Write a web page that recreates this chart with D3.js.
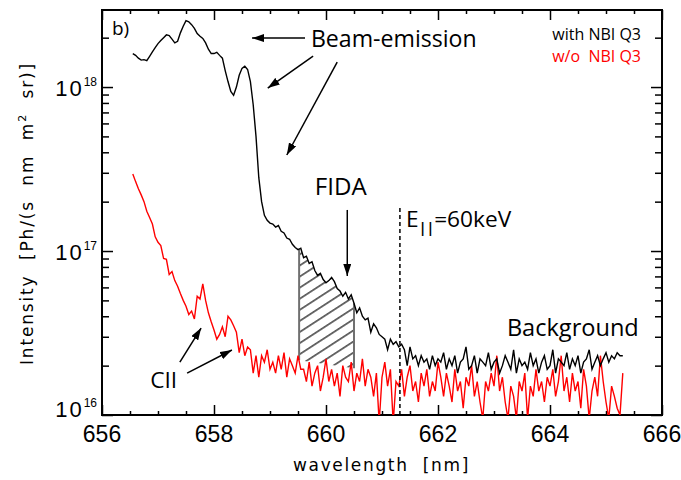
<!DOCTYPE html>
<html><head><meta charset="utf-8">
<script src="https://cdn.jsdelivr.net/npm/d3@7/dist/d3.min.js"></script>
<style>html,body{margin:0;padding:0;background:#fff}svg{display:block}</style>
</head><body>
<svg id="chart" width="681" height="480"></svg>
<script>
// ---------------- data (intensity in units of 1e16 Ph/(s nm m^2 sr)) ----------------
const intensityUnit = 1e16;
const wavelength = [
656.55,656.60,656.65,656.70,656.75,656.80,656.85,656.90,656.95,657.00,
657.05,657.10,657.15,657.20,657.25,657.30,657.35,657.40,657.45,657.50,
657.55,657.60,657.65,657.70,657.75,657.80,657.85,657.90,657.95,658.00,
658.05,658.10,658.15,658.20,658.25,658.30,658.35,658.40,658.45,658.50,
658.55,658.60,658.65,658.70,658.75,658.80,658.85,658.90,658.95,659.00,
659.05,659.10,659.15,659.20,659.25,659.30,659.35,659.40,659.45,659.50,
659.55,659.60,659.65,659.70,659.75,659.80,659.85,659.90,659.95,660.00,
660.05,660.10,660.15,660.20,660.25,660.30,660.35,660.40,660.45,660.50,
660.55,660.60,660.65,660.70,660.75,660.80,660.85,660.90,660.95,661.00,
661.05,661.10,661.15,661.20,661.25,661.30,661.35,661.40,661.45,661.50,
661.55,661.60,661.65,661.70,661.75,661.80,661.85,661.90,661.95,662.00,
662.05,662.10,662.15,662.20,662.25,662.30,662.35,662.40,662.45,662.50,
662.55,662.60,662.65,662.70,662.75,662.80,662.85,662.90,662.95,663.00,
663.05,663.10,663.15,663.20,663.25,663.30,663.35,663.40,663.45,663.50,
663.55,663.60,663.65,663.70,663.75,663.80,663.85,663.90,663.95,664.00,
664.05,664.10,664.15,664.20,664.25,664.30,664.35,664.40,664.45,664.50,
664.55,664.60,664.65,664.70,664.75,664.80,664.85,664.90,664.95,665.00,
665.05,665.10,665.15,665.20,665.25,665.30];
const withNBI = [
160,156,150,146,147,145,154,164,174,184,
192,200,208,206,196,186,190,214,235,254,
250,240,228,212,204,198,186,170,160,160,
163,156,150,126,108,94,89,100,118,130,
134,128,108,78,50,28,20,16.5,15.4,14.8,
14.6,14.0,14.3,13.2,12.9,12.0,11.8,11.0,10.5,10.2,
10.4,9.1,9.3,8.4,8.6,7.6,7.1,7.3,6.7,6.4,
6.6,6.9,6.5,5.9,5.7,5.3,5.6,5.1,5.4,4.8,
4.2,4.5,4.0,3.8,3.9,3.2,3.6,3.4,3.1,3.0,
2.9,2.5,2.9,2.7,2.8,2.6,2.7,2.5,2.0,2.6,
2.2,2.3,2.0,2.3,2.1,2.2,1.9,2.3,2.0,2.2,
2.1,2.4,1.9,2.2,2.0,2.3,1.8,2.1,2.2,2.6,
1.9,2.0,2.3,1.8,2.2,2.1,2.0,2.4,1.9,2.1,
2.2,1.8,2.0,2.3,2.1,1.9,2.5,1.8,2.2,2.0,
2.1,1.9,2.4,2.0,2.2,1.8,2.1,2.3,1.9,2.0,
2.5,1.8,2.2,2.1,2.0,2.4,1.9,2.2,2.0,2.3,
1.8,2.1,2.2,2.5,1.9,2.1,2.3,2.0,2.2,2.4,
2.1,2.3,2.2,2.4,2.3,2.3];
const withoutNBI = [
29.5,26.5,24.0,22.0,20.0,17.5,16.0,14.6,12.2,11.3,
10.8,9.0,8.9,7.2,7.5,6.6,6.1,5.5,5.0,4.6,
4.1,4.3,3.85,5.3,5.1,6.3,5.0,4.2,3.7,3.3,
2.9,3.1,3.45,3.0,4.0,3.8,3.5,3.2,2.4,2.9,
2.3,2.6,2.5,1.8,2.3,1.7,2.3,2.1,2.5,1.9,
2.1,1.8,2.3,1.9,2.4,1.7,2.2,2.0,1.8,2.3,
1.9,1.9,1.6,2.1,1.5,1.8,2.0,1.4,1.7,2.2,
1.6,1.9,1.5,1.8,1.3,2.0,1.7,1.6,2.1,1.4,
1.8,1.6,2.2,1.5,1.9,1.7,1.3,1.8,0.9,1.7,
2.1,1.5,1.9,0.9,1.6,1.5,1.9,1.3,1.7,2.0,
1.4,1.6,1.2,1.8,1.5,1.9,1.3,1.6,1.4,2.1,
1.7,1.3,1.8,1.5,1.2,1.9,1.4,1.6,1.1,1.7,
1.5,2.0,1.3,1.6,1.2,0.95,1.6,1.4,1.8,1.5,
2.3,1.4,1.7,1.2,0.95,1.5,1.3,0.95,1.6,1.4,
1.8,0.95,1.5,1.3,1.9,1.4,1.6,1.2,1.7,1.5,
1.9,1.3,1.6,2.3,1.4,1.7,1.2,1.8,1.4,1.6,
1.1,1.9,1.5,0.95,1.4,1.7,1.3,2.3,1.6,1.2,
0.95,1.5,1.3,1.1,1.0,1.8];
const seriesLabels = ["with NBI Q3", "w/o  NBI Q3"];
const xTickValues = [656, 658, 660, 662, 664, 666];
const xTickLabels = ["656", "658", "660", "662", "664", "666"];
const yTickValues = [1e16, 1e17, 1e18];
const yTickExponents = ["16", "17", "18"];
const fidaRange = [659.52, 660.50];
const fidaBase = [2.16, 1.93];
const eParallelWavelength = 661.32;

// ---------------- annotations (data coordinates) ----------------
const arrows = [
  {from:[659.625,199], to:[658.68,199]},
  {from:[659.77,154.5], to:[658.96,98.6]},
  {from:[660.20,142], to:[659.30,38.5]},
  {from:[660.38,17.8], to:[660.38,7.04]},
  {from:[657.39,2.10], to:[657.77,3.39]},
  {from:[657.52,1.80], to:[658.32,2.49]}
];
const labels = [
  {text:"Beam-emission", wl:659.73, val:175, width:166},
  {text:"FIDA", wl:659.80, val:21.9, width:52},
  {text:"Background", wl:663.23, val:3.03, width:132},
  {text:"CII", wl:656.86, val:1.46, width:27}
];

// ---------------- layout ----------------
const plot = {left:102, right:662, top:10, bottom:415};
const svg = d3.select("#chart");
const x = d3.scaleLinear().domain([656, 666]).range([plot.left, plot.right]);
const y = d3.scaleLog().domain([1e16, 2.95e18]).range([plot.bottom, plot.top]);
const yv = v => y(v * intensityUnit);
const annFont = "'Open Sans', 'Noto Sans', sans-serif";

const defs = svg.append("defs");
defs.append("clipPath").attr("id","clip").append("rect")
  .attr("x", plot.left).attr("y", plot.top)
  .attr("width", plot.right - plot.left).attr("height", plot.bottom - plot.top);
defs.append("marker").attr("id","arrow").attr("markerUnits","userSpaceOnUse")
  .attr("markerWidth",13).attr("markerHeight",8).attr("refX",12).attr("refY",4)
  .attr("orient","auto")
  .append("path").attr("d","M0,0 L12,4 L0,8 Z").attr("fill","#000");
const pat = defs.append("pattern").attr("id","hatch").attr("patternUnits","userSpaceOnUse")
  .attr("width",14).attr("height",9.3).attr("patternTransform","rotate(-33)");
pat.append("line").attr("x1",0).attr("x2",14).attr("y1",4.6).attr("y2",4.6)
  .attr("stroke","#4a4a4a").attr("stroke-width",1.6);

// ---------------- axes ----------------
const tickStyle = g => { g.select(".domain").remove(); g.selectAll("line").attr("stroke","#000").attr("stroke-width",1.5); g.selectAll("text").remove(); };
const yMinor = y.ticks().filter(v => !yTickValues.includes(v));
const xMinor = d3.range(656, 666.001, 0.5).filter(v => !xTickValues.includes(v));

svg.append("g").attr("transform",`translate(${plot.left},0)`).call(d3.axisRight(y).tickValues(yTickValues).tickSize(11)).call(tickStyle);
svg.append("g").attr("transform",`translate(${plot.left},0)`).call(d3.axisRight(y).tickValues(yMinor).tickSize(7)).call(tickStyle);
svg.append("g").attr("transform",`translate(${plot.right},0)`).call(d3.axisLeft(y).tickValues(yTickValues).tickSize(11)).call(tickStyle);
svg.append("g").attr("transform",`translate(${plot.right},0)`).call(d3.axisLeft(y).tickValues(yMinor).tickSize(7)).call(tickStyle);
svg.append("g").attr("transform",`translate(0,${plot.bottom})`).call(d3.axisTop(x).tickValues(xTickValues).tickSize(10)).call(tickStyle);
svg.append("g").attr("transform",`translate(0,${plot.bottom})`).call(d3.axisTop(x).tickValues(xMinor).tickSize(4)).call(tickStyle);
svg.append("g").attr("transform",`translate(0,${plot.top})`).call(d3.axisBottom(x).tickValues(xTickValues).tickSize(10)).call(tickStyle);
svg.append("g").attr("transform",`translate(0,${plot.top})`).call(d3.axisBottom(x).tickValues(xMinor).tickSize(4)).call(tickStyle);

svg.append("rect").attr("x",plot.left).attr("y",plot.top)
  .attr("width",plot.right-plot.left).attr("height",plot.bottom-plot.top)
  .attr("fill","none").attr("stroke","#000").attr("stroke-width",2);

// tick labels
svg.append("g").selectAll("text").data(xTickValues).join("text")
  .attr("x", d => x(d)).attr("y", plot.bottom + 27)
  .attr("text-anchor","middle").attr("font-family","'Liberation Sans', Arial, sans-serif")
  .attr("font-size",23).attr("fill","#000")
  .text((d,i) => xTickLabels[i]);
const yl = svg.append("g").selectAll("text").data(yTickValues).join("text")
  .attr("x", 97).attr("y", d => Math.min(y(d) + 9, plot.bottom + 2))
  .attr("text-anchor","end").attr("font-family","'Liberation Sans', Arial, sans-serif")
  .attr("font-size",22).attr("fill","#000");
yl.append("tspan").attr("letter-spacing",2).text("10");
yl.append("tspan").attr("dy",-10).attr("font-size",12).text((d,i) => yTickExponents[i]);

// axis titles
const titleFont = "'DejaVu Sans', sans-serif";
function spreadTo(sel, target) {
  const n = sel.text().length;
  const len = sel.node().getComputedTextLength();
  sel.attr("letter-spacing", (target - len) / n);
}
const xt = svg.append("text").attr("x", 381.5).attr("y", 471).attr("text-anchor","middle")
  .attr("font-family", titleFont).attr("font-size",17).attr("fill","#000")
  .style("white-space","pre").text("wavelength  [nm]");
spreadTo(xt, 177);
const yt = svg.append("text").attr("transform","translate(33,213.5) rotate(-90)")
  .attr("text-anchor","middle").attr("font-family", titleFont).attr("font-size",17)
  .attr("fill","#000").style("white-space","pre");
yt.append("tspan").text("Intensity  [Ph/(s  nm  m");
yt.append("tspan").attr("dy",-7).attr("font-size",11).text("2");
yt.append("tspan").attr("dy",7).text("  sr)]");
spreadTo(yt, 303);

// ---------------- data marks ----------------
const dataG = svg.append("g").attr("clip-path","url(#clip)");
const line = d3.line().x(d => x(d[0])).y(d => yv(d[1]));

// FIDA hatched region
function blackAt(w) {
  const i = d3.bisectRight(wavelength, w) - 1;
  const t = (w - wavelength[i]) / (wavelength[i+1] - wavelength[i]);
  return Math.exp(Math.log(withNBI[i]) * (1 - t) + Math.log(withNBI[i+1]) * t);
}
const fidaPoly = [[fidaRange[0], fidaBase[0]], [fidaRange[0], blackAt(fidaRange[0])]]
  .concat(wavelength.map((w,i) => [w, withNBI[i]]).filter(d => d[0] > fidaRange[0] && d[0] < fidaRange[1]))
  .concat([[fidaRange[1], blackAt(fidaRange[1])], [fidaRange[1], fidaBase[1]]]);
dataG.append("path").attr("d", line(fidaPoly) + "Z").attr("fill","url(#hatch)").attr("stroke","none");
fidaRange.forEach((w,i) => {
  dataG.append("line").attr("x1", x(w)).attr("x2", x(w))
    .attr("y1", yv(fidaBase[i])).attr("y2", yv(blackAt(w)))
    .attr("stroke","#707070").attr("stroke-width",2);
});

dataG.append("path").datum(wavelength.map((w,i) => [w, withoutNBI[i]]))
  .attr("d", line).attr("fill","none").attr("stroke","#ff0000").attr("stroke-width",1.4);
dataG.append("path").datum(wavelength.map((w,i) => [w, withNBI[i]]))
  .attr("d", line).attr("fill","none").attr("stroke","#000").attr("stroke-width",1.4);

// E_parallel dashed line
dataG.append("line").attr("x1", x(eParallelWavelength)).attr("x2", x(eParallelWavelength))
  .attr("y1", yv(18.3)).attr("y2", plot.bottom)
  .attr("stroke","#000").attr("stroke-width",1.5).attr("stroke-dasharray","4,3");

// ---------------- annotations ----------------
svg.append("g").selectAll("line").data(arrows).join("line")
  .attr("x1", d => x(d.from[0])).attr("y1", d => yv(d.from[1]))
  .attr("x2", d => x(d.to[0])).attr("y2", d => yv(d.to[1]))
  .attr("stroke","#000").attr("stroke-width",1.5).attr("marker-end","url(#arrow)");

function fitWidth(sel, target) {
  const w = sel.node().getBBox().width;
  const fs = parseFloat(sel.attr("font-size"));
  sel.attr("font-size", fs * target / w);
}
labels.forEach(l => {
  const t = svg.append("text").attr("x", x(l.wl)).attr("y", yv(l.val))
    .attr("font-family", annFont).attr("font-size", 22).attr("fill","#000").text(l.text);
  fitWidth(t, l.width);
});
const et = svg.append("text").attr("x", x(661.43)).attr("y", yv(14.0))
  .attr("font-family", annFont).attr("font-size", 22).attr("fill","#000");
et.append("tspan").text("E");
et.append("tspan").attr("dy", 6).attr("fill","#000").attr("font-weight",700)
  .style("font-size","0.62em").text("||");
et.append("tspan").attr("dy", -6).attr("font-weight",400).text("=60keV");
fitWidth(et, 106);

// legend
const legendColors = ["#000", "#ff0000"];
seriesLabels.forEach((s,i) => {
  svg.append("text").attr("x", 641).attr("y", 39.5 + i * 22)
    .attr("text-anchor","end").attr("font-family", annFont).attr("font-size",16)
    .attr("fill", legendColors[i]).style("white-space","pre").text(s);
});
svg.append("text").attr("x",112).attr("y",35).attr("font-family", annFont)
  .attr("font-size",19).attr("fill","#000").text("b)");
</script>
</body></html>
